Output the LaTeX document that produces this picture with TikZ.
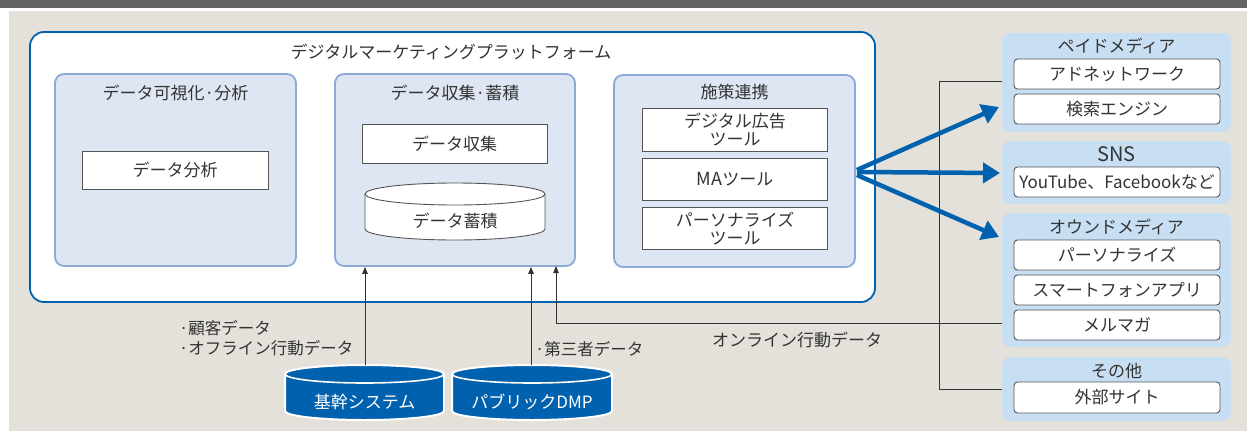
\documentclass[tikz,border=0pt]{standalone}
\usepackage{fontspec}
\setmainfont{Noto Sans CJK JP}
\usetikzlibrary{arrows.meta,calc}
\definecolor{barc}{HTML}{636363}
\definecolor{beige}{HTML}{E4E1DA}
\definecolor{pblue}{HTML}{0062AE}
\definecolor{panelfill}{HTML}{DEE5F3}
\definecolor{panelline}{HTML}{8DA9D8}
\definecolor{grpfill}{HTML}{C8DEF2}
\definecolor{txt}{HTML}{333333}
\definecolor{boxline}{HTML}{555555}
\begin{document}
\begin{tikzpicture}[x=1pt,y=-1pt,
  panel/.style={draw=panelline, line width=1.8pt, fill=panelfill, rounded corners=9pt, inner sep=0pt, minimum width=241pt, minimum height=192pt},
  wbox/.style={draw=boxline, line width=0.9pt, fill=white, inner sep=0pt, text=txt, font=\fontsize{17}{17.5}\selectfont, align=center},
  grp/.style={fill=grpfill, rounded corners=8pt, inner sep=0pt, minimum width=229pt},
  rbox/.style={draw=boxline, line width=0.9pt, fill=white, rounded corners=3.5pt, inner sep=0pt, minimum width=206pt, minimum height=30pt, text=txt, font=\fontsize{17}{17}\selectfont},
  ttl/.style={text=txt, font=\fontsize{17}{17}\selectfont, inner sep=0pt},
  thinl/.style={draw=txt, line width=0.9pt},
  tharr/.style={thinl, -{Triangle[length=7pt,width=5.5pt]}},
  bigarr/.style={draw=pblue, line width=4.5pt, -{Triangle[length=17pt,width=20pt]}},
  cyltext/.style={text=white, font=\fontsize{17}{17}\selectfont, inner sep=0pt},
]
\fill[white] (0,0) rectangle (1247,431);
\useasboundingbox (0,0) rectangle (1247,431);
\fill[barc] (0,0) rectangle (1247,8);
\fill[beige] (9,11) rectangle (1247,431);

% platform
\node[draw=pblue, line width=1.8pt, fill=white, rounded corners=14pt, minimum width=845pt, minimum height=270pt, inner sep=0pt] (plat) at (452.5,167) {};
\node[ttl] (platt) at (451,52) {デジタルマーケティングプラットフォーム};

% panel 1
\node[panel] (p1) at (175.5,170) {};
\node[ttl] (p1t) at (175.5,93) {データ可視化·分析};
\node[wbox, minimum width=186pt, minimum height=38pt] (anal) at (175,170) {データ分析};

% panel 2
\node[panel, minimum width=240pt] (p2) at (455,170) {};
\node[ttl] (p2t) at (455,93) {データ収集·蓄積};
\node[wbox, minimum width=185pt, minimum height=39pt] (coll) at (454.5,143.5) {データ収集};
\draw[draw=boxline, line width=0.9pt, fill=white] (365,194) -- (365,229) arc[start angle=180, end angle=0, x radius=90, y radius=11] -- (545,194) arc[start angle=0, end angle=-180, x radius=90, y radius=11] -- cycle;
\draw[draw=boxline, line width=0.9pt] (365,194) arc[start angle=180, end angle=0, x radius=90, y radius=11];
\node[ttl] (stor) at (455,221) {データ蓄積};

% panel 3
\node[panel] (p3) at (734.5,171) {};
\node[ttl] (p3t) at (734.5,92) {施策連携};
\node[wbox, minimum width=185pt, minimum height=43pt] (dad) at (735,129.5) {デジタル広告\\ツール};
\node[wbox, minimum width=185pt, minimum height=42pt] (ma) at (735,179) {{\fontsize{18}{18}\selectfont MA}ツール};
\node[wbox, minimum width=185pt, minimum height=42pt] (pers) at (735,228.5) {パーソナライズ\\ツール};

% right column
\node[grp, minimum height=99pt] (paid) at (1116.5,82.5) {};
\node[ttl] (paidt) at (1116.5,46) {ペイドメディア};
\node[rbox] (adn) at (1117,74) {アドネットワーク};
\node[rbox] (srch) at (1117,109) {検索エンジン};

\node[grp, minimum height=63pt] (sns) at (1116.5,172.5) {};
\node[ttl, font=\fontsize{20}{20}\selectfont] (snst) at (1116.5,154) {SNS};
\node[rbox] (yt) at (1117,182) {YouTube、Facebookなど};

\node[grp, minimum height=134pt] (own) at (1116.5,280) {};
\node[ttl] (ownt) at (1116.5,227) {オウンドメディア};
\node[rbox] (opers) at (1117,255) {パーソナライズ};
\node[rbox] (app) at (1117,290) {スマートフォンアプリ};
\node[rbox] (mail) at (1117,325) {メルマガ};

\node[grp, minimum height=64pt] (oth) at (1116.5,389) {};
\node[ttl] (otht) at (1116.5,371) {その他};
\node[rbox, minimum height=31pt] (ext) at (1117,397.5) {外部サイト};

% bracket line on the right
\draw[thinl] (paid.west |- 0,81) -- (939,81) |- (oth.west);

% source databases
\draw[draw=white, line width=2pt, fill=pblue] (285,374) -- (285,411) arc[start angle=180, end angle=0, x radius=79.5, y radius=9] -- (444,374) arc[start angle=0, end angle=-180, x radius=79.5, y radius=9] -- cycle;
\draw[draw=white, line width=1.6pt] (285,374) arc[start angle=180, end angle=0, x radius=79.5, y radius=9];
\node[cyltext] (kikan) at (364.5,402) {基幹システム};
\coordinate (kikantop) at (365,365);

\draw[draw=white, line width=2pt, fill=pblue] (452,374) -- (452,411) arc[start angle=180, end angle=0, x radius=80, y radius=9] -- (612,374) arc[start angle=0, end angle=-180, x radius=80, y radius=9] -- cycle;
\draw[draw=white, line width=1.6pt] (452,374) arc[start angle=180, end angle=0, x radius=80, y radius=9];
\node[cyltext] (dmp) at (532,402) {パブリックDMP};
\coordinate (dmptop) at (531,365);

% data arrows
\draw[tharr] (kikantop) -- (kikantop |- p2.south);
\draw[tharr] (dmptop) -- (dmptop |- p2.south);
\coordinate (onl) at (556,266);
\draw[tharr] (own.west |- 0,323) -| (onl);

% labels
\node[ttl, anchor=west, align=left, font=\fontsize{16.5}{20.5}\selectfont] (lab1) at (179,338) {·顧客データ\\·オフライン行動データ};
\node[ttl, anchor=west, font=\fontsize{16.5}{16.5}\selectfont] (lab2) at (535,349) {·第三者データ};
\node[ttl] (lab3) at (797,340) {オンライン行動データ};

% blue arrows
\draw[bigarr] ($(p3.east)+(1,-1)$) -- (999,107);
\draw[bigarr] ($(p3.east)+(1,1)$) -- (1000,173);
\draw[bigarr] ($(p3.east)+(1,4)$) -- (999,237);
\end{tikzpicture}
\end{document}
